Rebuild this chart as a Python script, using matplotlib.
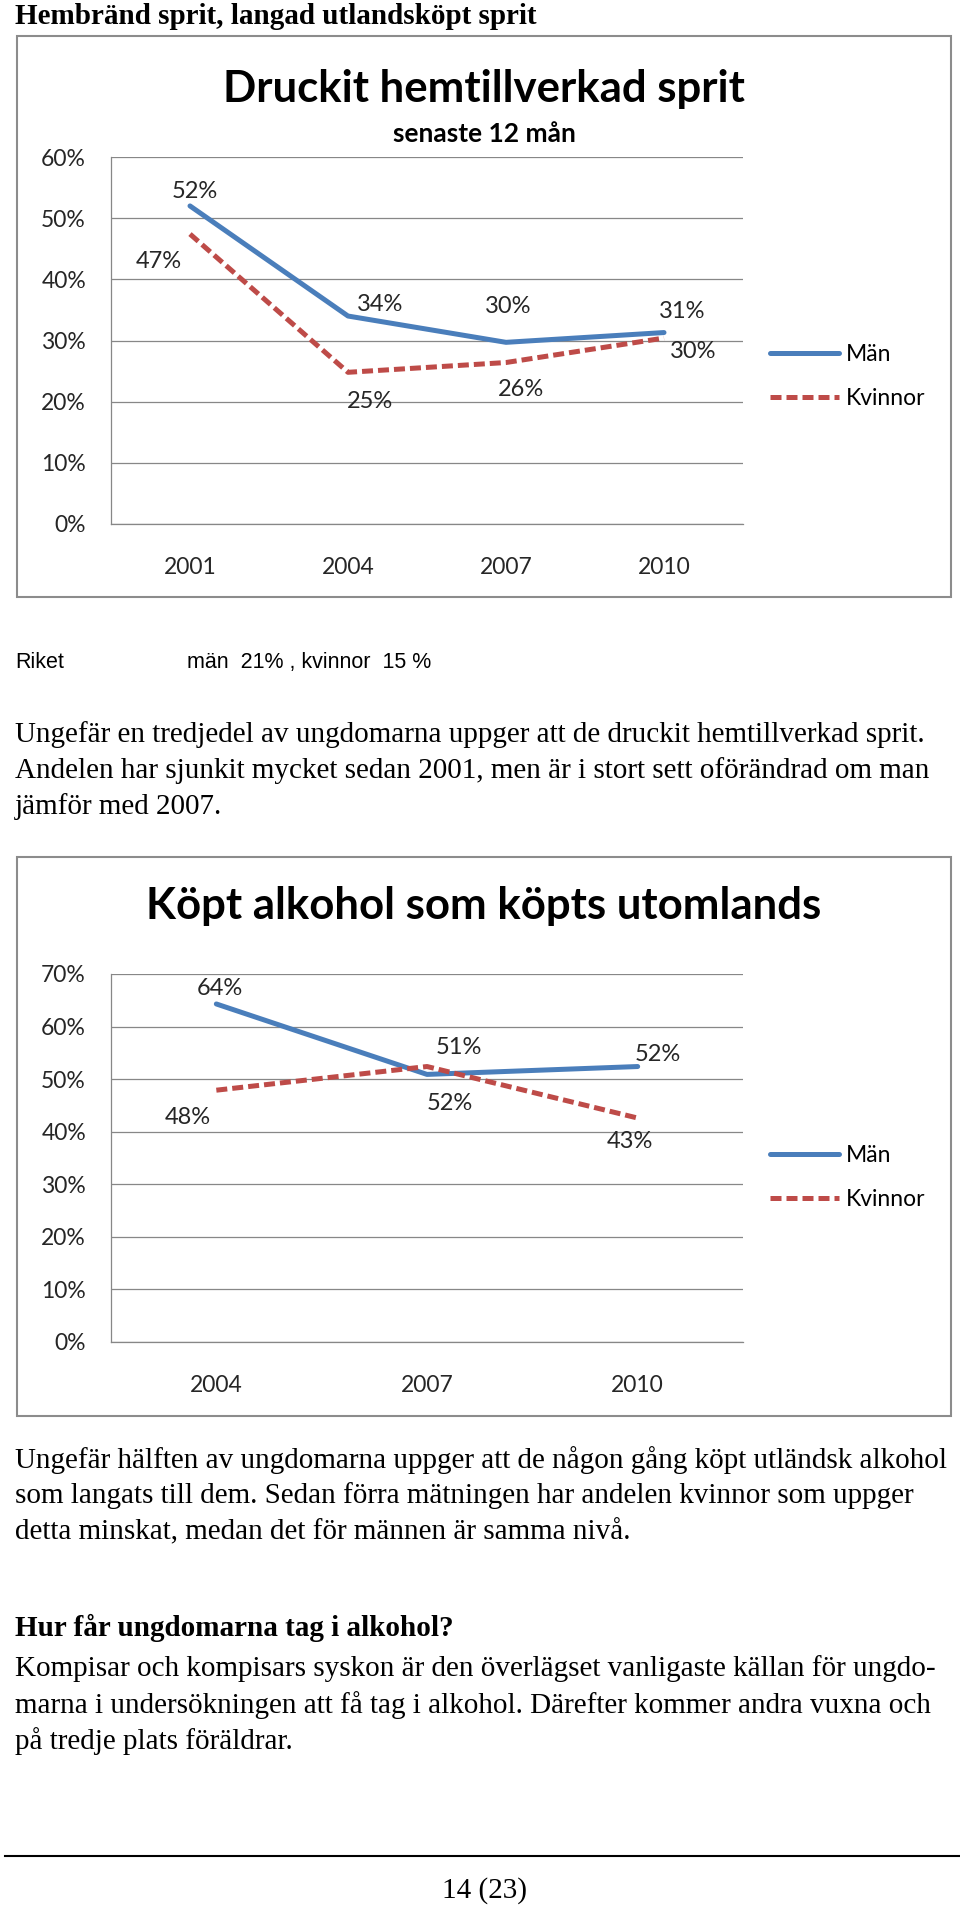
import matplotlib
matplotlib.use('Agg')
import matplotlib.pyplot as plt
from matplotlib.patches import Rectangle
from matplotlib.lines import Line2D

# chart 1: Druckit hemtillverkad sprit (percent)
years1 = ['2001', '2004', '2007', '2010']
man1 = [52.0, 34.0, 29.7, 31.3]
kvinnor1 = [47.4, 24.8, 26.4, 30.4]

# chart 2: Kopt alkohol som kopts utomlands (percent)
years2 = ['2004', '2007', '2010']
man2 = [64.3, 50.9, 52.4]
kvinnor2 = [47.9, 52.4, 42.6]

series_names = ['Män', 'Kvinnor']

# page text
header = 'Hembränd sprit, langad utlandsköpt sprit'
riket = ['Riket', 'män  21% , kvinnor  15 %']
para1 = ['Ungefär en tredjedel av ungdomarna uppger att de druckit hemtillverkad sprit.',
         'Andelen har sjunkit mycket sedan 2001, men är i stort sett oförändrad om man',
         'jämför med 2007.']
para2 = ['Ungefär hälften av ungdomarna uppger att de någon gång köpt utländsk alkohol',
         'som langats till dem. Sedan förra mätningen har andelen kvinnor som uppger',
         'detta minskat, medan det för männen är samma nivå.']
heading = 'Hur får ungdomarna tag i alkohol?'
para3 = ['Kompisar och kompisars syskon är den överlägset vanligaste källan för ungdo-',
         'marna i undersökningen att få tag i alkohol. Därefter kommer andra vuxna och',
         'på tredje plats föräldrar.']
page_no = '14 (23)'

W, H = 960, 1905
BLUE = '#4A7EBB'
RED = '#BE4B48'
GRID = '#878787'
TXT = '#262626'
CFONT = 'Lato'
SERIF = 'Liberation Serif'

fig = plt.figure(figsize=(W / 100, H / 100), dpi=100)


def fx(x):
    return x / W


def fy(y):
    return 1 - y / H


def chart(top, bottom, title, title_y, subtitle, years, man, kvinnor, ymax,
          ax_top, ax_bottom, off_m, off_k, leg_top):
    # outer frame of the excel chart
    fig.patches.append(Rectangle((fx(17), fy(bottom)), (951 - 17) / W, (bottom - top) / H,
                                 transform=fig.transFigure, fill=False,
                                 ec='#8c8c8c', lw=1.5))
    fig.text(fx(484), fy(title_y), title, ha='center', va='center',
             fontsize=31.5, fontweight='bold', family=CFONT, color='black')
    if subtitle:
        fig.text(fx(484), fy(134), subtitle, ha='center', va='center',
                 fontsize=19, fontweight='bold', family=CFONT, color='black')

    ax = fig.add_axes([fx(111), fy(ax_bottom), (743 - 111) / W, (ax_bottom - ax_top) / H])
    x = range(len(years))
    ax.plot(x, man, color=BLUE, lw=3.6, solid_capstyle='round', label=series_names[0])
    ax.plot(x, kvinnor, color=RED, lw=3.6, dashes=(2.2, 1.0), dash_capstyle='butt',
            label=series_names[1])

    for i, v in enumerate(man):
        ax.annotate('{0:.0f}%'.format(v), (i, v), xytext=(off_m[i][0] * 0.72, off_m[i][1] * 0.72),
                    textcoords='offset points', ha='center', va='center',
                    fontsize=17, family=CFONT, color=TXT)
    for i, v in enumerate(kvinnor):
        ax.annotate('{0:.0f}%'.format(v), (i, v), xytext=(off_k[i][0] * 0.72, off_k[i][1] * 0.72),
                    textcoords='offset points', ha='center', va='center',
                    fontsize=17, family=CFONT, color=TXT)

    ax.set_xlim(-0.5, len(years) - 0.5)
    ax.set_ylim(0, ymax)
    ticks = list(range(0, ymax + 1, 10))
    ax.set_yticks(ticks)
    ax.set_yticklabels(['{0}%'.format(t) for t in ticks])
    ax.set_xticks(list(x))
    ax.set_xticklabels(years)
    ax.tick_params(axis='both', length=0, labelsize=16.5, labelcolor=TXT)
    ax.tick_params(axis='x', pad=23.5)
    ax.tick_params(axis='y', pad=18)
    for lab in ax.get_xticklabels() + ax.get_yticklabels():
        lab.set_family(CFONT)
    ax.grid(axis='y', color=GRID, lw=0.9)
    ax.set_axisbelow(True)
    for s in ['top', 'right']:
        ax.spines[s].set_visible(False)
    for s in ['left', 'bottom']:
        ax.spines[s].set_color(GRID)
        ax.spines[s].set_linewidth(0.9)
    ax.patch.set_alpha(0)

    ax.legend(loc='upper left', bbox_to_anchor=(fx(759), fy(leg_top)),
              bbox_transform=fig.transFigure, frameon=False, borderpad=0,
              handlelength=3.0, handletextpad=0.3, labelspacing=1.0,
              prop={'family': CFONT, 'size': 16.5})
    return ax


# label offsets in pixels (dx, dy) from the data point
chart(36, 597, 'Druckit hemtillverkad sprit', 89, 'senaste 12 mån',
      years1, man1, kvinnor1, 60, 157, 524,
      [(5, 14), (32, 12), (2, 36), (18, 21)],
      [(-31, -27), (22, -29), (15, -27), (29, -13)],
      333)

chart(857, 1416, 'Köpt alkohol som köpts utomlands', 906, None,
      years2, man2, kvinnor2, 70, 974, 1342,
      [(4, 15), (32, 27), (20, 12)],
      [(-29, -27), (23, -37), (-8, -23)],
      1134)

# surrounding document text
fig.text(fx(15), fy(16), header, ha='left', va='center', fontsize=21,
         fontweight='bold', family=SERIF)
fig.text(fx(15), fy(662), riket[0], ha='left', va='center', fontsize=15.5,
         family='Liberation Sans')
fig.text(fx(187), fy(662), riket[1], ha='left', va='center', fontsize=15.5,
         family='Liberation Sans')

for lines, y0 in [(para1, 735), (para2, 1460), (para3, 1669)]:
    for k, line in enumerate(lines):
        fig.text(fx(15), fy(y0 + k * 36), line, ha='left', va='center',
                 fontsize=21, family=SERIF)

fig.text(fx(15), fy(1628), heading, ha='left', va='center', fontsize=21,
         fontweight='bold', family=SERIF)

fig.lines.append(Line2D([fx(5), fx(960)], [fy(1856), fy(1856)],
                        transform=fig.transFigure, color='black', lw=1.5))
fig.text(fx(484), fy(1891), page_no, ha='center', va='center', fontsize=21,
         family=SERIF)

fig.savefig('out.png', dpi=100)
